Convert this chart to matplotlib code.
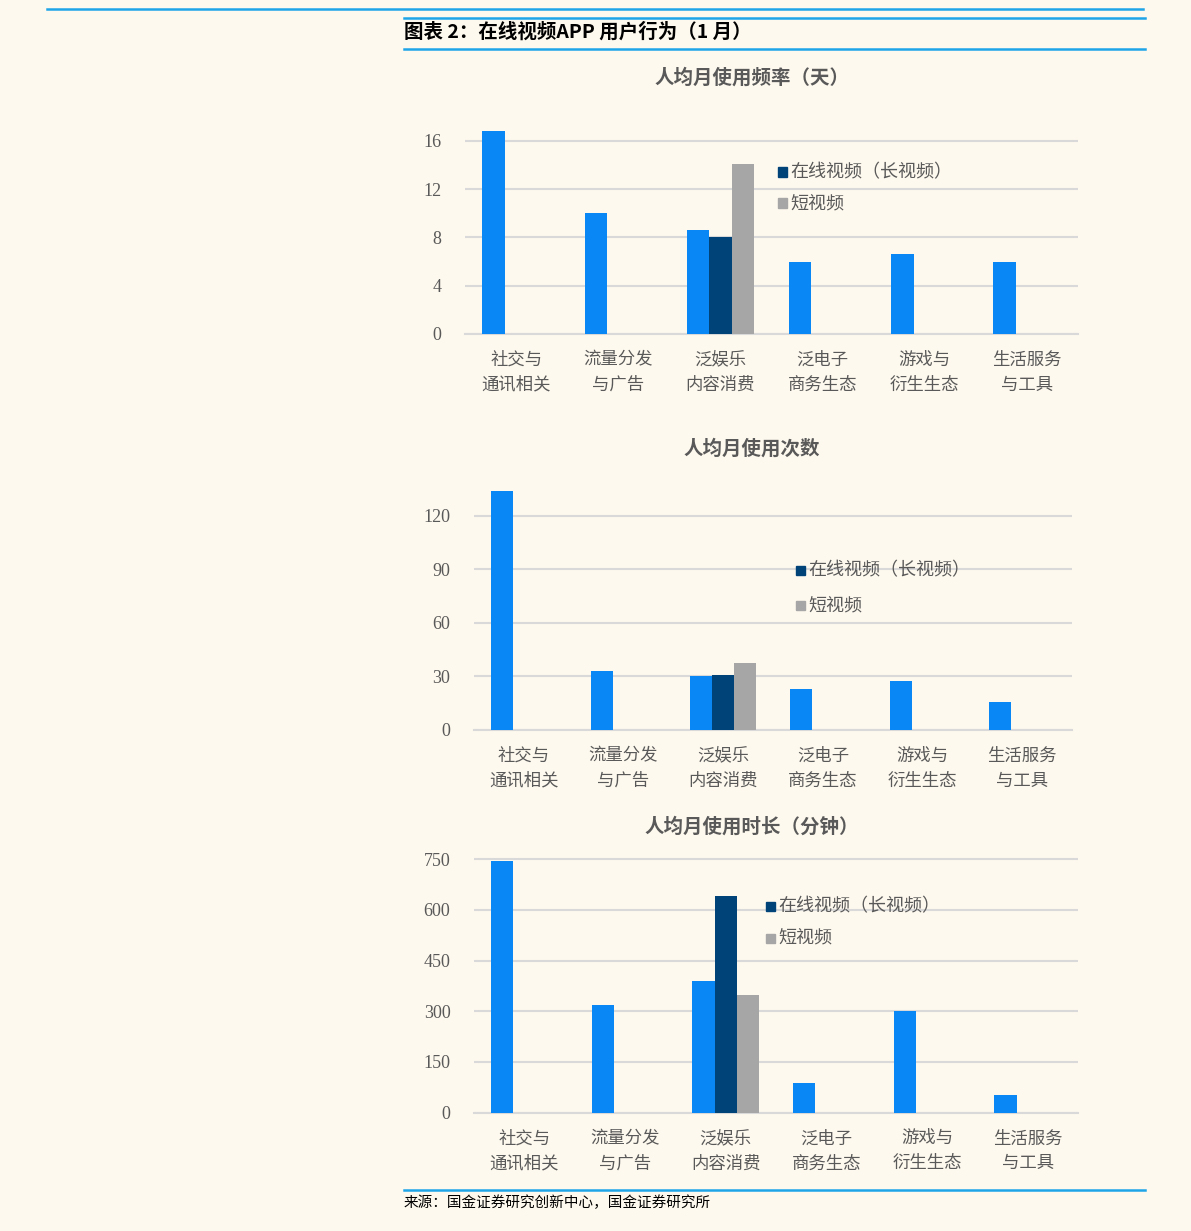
import matplotlib
matplotlib.use("Agg")
import matplotlib.pyplot as plt
from matplotlib.lines import Line2D
from matplotlib.patches import Rectangle
import numpy as np

plt.rcParams['font.family'] = ['Noto Sans CJK SC', 'DejaVu Sans']

categories = ["社交与\n通讯相关", "流量分发\n与广告", "泛娱乐\n内容消费",
              "泛电子\n商务生态", "游戏与\n衍生生态", "生活服务\n与工具"]
series_names = ["全网", "在线视频（长视频）", "短视频"]

freq_all = [16.8, 10.0, 8.6, 6.0, 6.6, 6.0]
freq_long = [None, None, 8.0, None, None, None]
freq_short = [None, None, 14.1, None, None, None]
freq_ticks = [0, 4, 8, 12, 16]

count_all = [133.8, 33.0, 30.0, 23.0, 27.3, 15.5]
count_long = [None, None, 30.6, None, None, None]
count_short = [None, None, 37.3, None, None, None]
count_ticks = [0, 30, 60, 90, 120]

time_all = [743, 317, 388, 87, 301, 51]
time_long = [None, None, 641, None, None, None]
time_short = [None, None, 348, None, None, None]
time_ticks = [0, 150, 300, 450, 600, 750]

titles = ["人均月使用频率（天）", "人均月使用次数", "人均月使用时长（分钟）"]

W, H = 1191, 1231
BG = "#FEF9EE"
C_ALL = "#0988F5"
C_LONG = "#004379"
C_SHORT = "#A6A6A6"
C_LINE = "#1EA5E8"
C_GRID = "#D9D9D9"
C_TXT = "#595959"

fig = plt.figure(figsize=(W / 100, H / 100), dpi=100)
fig.patch.set_facecolor(BG)


def px_axes(left, right, top, bottom):
    return fig.add_axes([left / W, 1 - bottom / H, (right - left) / W, (bottom - top) / H])


def fx(x):
    return x / W


def fy(y):
    return 1 - y / H


# header lines
fig.add_artist(Line2D([fx(47), fx(1143)], [fy(8.5), fy(8.5)], color=C_LINE, lw=1.8))
fig.add_artist(Line2D([fx(404), fx(1145)], [fy(17.5), fy(17.5)], color=C_LINE, lw=1.8))
fig.add_artist(Line2D([fx(404), fx(1145)], [fy(49), fy(49)], color=C_LINE, lw=1.8))
fig.text(fx(404), fy(32), "图表 2：在线视频APP 用户行为（1 月）", fontsize=14, fontweight='bold',
         color="black", ha='left', va='center', style='italic')

# footer
fig.add_artist(Line2D([fx(404), fx(1145)], [fy(1189.5), fy(1189.5)], color=C_LINE, lw=1.8))
fig.text(fx(404), fy(1203), "来源：国金证券研究创新中心，国金证券研究所", fontsize=10.5,
         color="black", ha='left', va='center')

panels = [
    dict(box=(465, 1078, 334, 12.08), ymax=17.2, all=freq_all, long=freq_long, short=freq_short,
         ticks=freq_ticks, title=titles[0], title_y=78, leg=(782, 172, 203)),
    dict(box=(474, 1072, 730, 1.786), ymax=137, all=count_all, long=count_long, short=count_short,
         ticks=count_ticks, title=titles[1], title_y=449, leg=(800, 570, 605)),
    dict(box=(474, 1078, 1112.7, 0.3382), ymax=757, all=time_all, long=time_long, short=time_short,
         ticks=time_ticks, title=titles[2], title_y=827, leg=(770, 906, 938)),
]

bw = 0.22
for p in panels:
    left, right, zero_y, scale = p['box']
    top = zero_y - p['ymax'] * scale
    ax = px_axes(left, right, top, zero_y)
    ax.set_facecolor("none")
    x = np.arange(len(categories))
    vals_all = p['all']
    vals_long = [np.nan if v is None else v for v in p['long']]
    vals_short = [np.nan if v is None else v for v in p['short']]
    ax.bar(x - bw, vals_all, width=bw, color=C_ALL, zorder=3, align='center')
    ax.bar(x, vals_long, width=bw, color=C_LONG, zorder=3, label=series_names[1])
    ax.bar(x + bw, vals_short, width=bw, color=C_SHORT, zorder=3, label=series_names[2])
    ax.set_xlim(-0.5, len(categories) - 0.5)
    ax.set_ylim(0, p['ymax'])
    ax.set_yticks(p['ticks'])
    ax.set_yticklabels([str(t) for t in p['ticks']], family='Liberation Serif', fontsize=13,
                       color=C_TXT)
    ax.set_xticks(x)
    ax.set_xticklabels(categories, fontsize=12.5, color=C_TXT, linespacing=1.5)
    ax.tick_params(axis='y', length=0, pad=17)
    ax.tick_params(axis='x', length=0, pad=12)
    for s in ['top', 'right', 'left']:
        ax.spines[s].set_visible(False)
    ax.spines['bottom'].set_color(C_GRID)
    ax.spines['bottom'].set_linewidth(1.5)
    ax.yaxis.grid(True, color=C_GRID, linewidth=1.5, zorder=0)
    ax.set_axisbelow(True)

    fig.text(fx(752), fy(p['title_y']), p['title'], fontsize=14, fontweight='bold',
             color=C_TXT, ha='center', va='center')

    lx, ly1, ly2 = p['leg']
    for yy, col, name in [(ly1, C_LONG, series_names[1]), (ly2, C_SHORT, series_names[2])]:
        fig.add_artist(Rectangle((fx(lx - 4.5), fy(yy + 4.5)), 9 / W, 9 / H, color=col,
                                 transform=fig.transFigure))
        fig.text(fx(lx + 8), fy(yy), name, fontsize=13, color=C_TXT, ha='left', va='center')

fig.savefig("out.png", dpi=100, facecolor=BG)
